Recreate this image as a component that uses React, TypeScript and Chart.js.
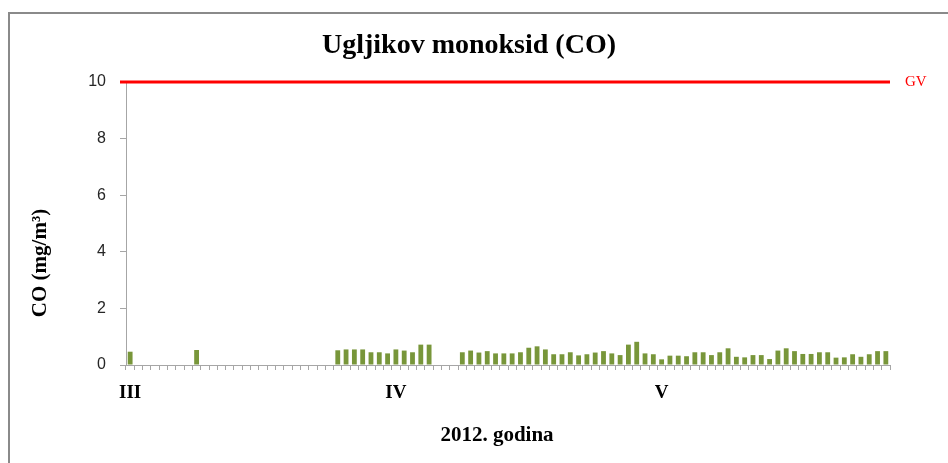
import { useEffect, useRef } from 'react';
import { Chart, registerables } from 'chart.js';

Chart.register(...registerables);

// Months shown on the axis (March–May 2012)
const MONTH_NUMBERS = [3, 4, 5];
const MONTH_LENGTHS = [31, 30, 31];

// Day categories
const DAYS: string[] = [];
MONTH_NUMBERS.forEach((m, mi) => {
  for (let d = 1; d <= MONTH_LENGTHS[mi]; d++) DAYS.push(`${d}.${m}.2012`);
});

// Tick labels (month names in Roman numerals) and the category index they sit at
const TICK_POS = [0, 32, 64];
const TICK_TEXT = ['III', 'IV', 'V'];

// Daily CO concentrations (mg/m3), null = no measurement
const CO_MARCH = [
  0.47, null, null, null, null, null, null, null, 0.53, null,
  null, null, null, null, null, null, null, null, null, null,
  null, null, null, null, null, 0.52, 0.55, 0.55, 0.55, 0.45,
  0.45,
];
const CO_APRIL = [
  0.41, 0.55, 0.51, 0.45, 0.72, 0.72, null, null, null, 0.45,
  0.51, 0.44, 0.49, 0.41, 0.41, 0.41, 0.45, 0.61, 0.66, 0.55,
  0.38, 0.38, 0.45, 0.34, 0.38, 0.44, 0.49, 0.41, 0.35, 0.72,
];
const CO_MAY = [
  0.82, 0.41, 0.38, 0.2, 0.33, 0.33, 0.31, 0.45, 0.45, 0.35,
  0.45, 0.59, 0.29, 0.27, 0.35, 0.35, 0.21, 0.51, 0.59, 0.49,
  0.39, 0.39, 0.45, 0.45, 0.26, 0.27, 0.38, 0.29, 0.38, 0.49,
  0.49,
];
const CO_VALUES = [...CO_MARCH, ...CO_APRIL, ...CO_MAY];

// Limit value (GV)
const GV_VALUE = 10;
const GV_LABEL = 'GV';

const Y_MIN = 0;
const Y_MAX = 10;
const Y_STEP = 2;

const TITLE = 'Ugljikov monoksid (CO)';
const Y_TITLE = 'CO (mg/m³)';
const X_TITLE = '2012. godina';

const SERIF = '"Liberation Serif", "DejaVu Serif", serif';
const SANS = '"Liberation Sans", "DejaVu Sans", sans-serif';

const decorPlugin = {
  id: 'decor',
  beforeDraw(chart: any) {
    const { ctx, width, height } = chart;
    ctx.save();
    ctx.fillStyle = '#ffffff';
    ctx.fillRect(0, 0, width, height);
    ctx.strokeStyle = '#8a8a8a';
    ctx.lineWidth = 2;
    ctx.beginPath();
    ctx.moveTo(9, height);
    ctx.lineTo(9, 13);
    ctx.lineTo(width, 13);
    ctx.stroke();
    ctx.restore();
  },
  afterDatasetsDraw(chart: any) {
    const { ctx, chartArea } = chart;
    const y = chart.scales.y;
    const gy = y.getPixelForValue(GV_VALUE);
    ctx.save();
    ctx.strokeStyle = '#ff0000';
    ctx.lineWidth = 3;
    ctx.beginPath();
    ctx.moveTo(chartArea.left - 6, gy);
    ctx.lineTo(chartArea.right, gy);
    ctx.stroke();
    ctx.fillStyle = '#ff0000';
    ctx.font = `15px ${SERIF}`;
    ctx.textAlign = 'left';
    ctx.textBaseline = 'middle';
    ctx.fillText(GV_LABEL, chartArea.right + 15, gy);
    ctx.restore();
  },
  afterDraw(chart: any) {
    const { ctx } = chart;
    ctx.save();
    ctx.fillStyle = '#000';
    ctx.textAlign = 'center';
    ctx.textBaseline = 'middle';
    ctx.font = `bold 28px ${SERIF}`;
    ctx.fillText(TITLE, 469, 46);
    ctx.font = `bold 21px ${SERIF}`;
    ctx.fillText(X_TITLE, 497, 436);
    ctx.translate(41, 263);
    ctx.rotate(-Math.PI / 2);
    ctx.fillText(Y_TITLE, 0, 0);
    ctx.restore();
  },
};

export default function App() {
  const ref = useRef<HTMLCanvasElement>(null);
  useEffect(() => {
    if (!ref.current) return;
    const chart = new Chart(ref.current, {
      type: 'bar',
      data: {
        labels: DAYS,
        datasets: [
          {
            label: 'CO',
            data: CO_VALUES,
            backgroundColor: '#78963a',
            borderWidth: 0,
            categoryPercentage: 1,
            barPercentage: 0.58,
          },
        ],
      },
      options: {
        responsive: false,
        animation: false,
        devicePixelRatio: 1,
        layout: { padding: { left: 0, right: 58, top: 82, bottom: 0 } },
        plugins: {
          legend: { display: false },
          tooltip: { enabled: false },
          title: { display: false },
        },
        scales: {
          x: {
            type: 'category',
            offset: true,
            grid: {
              offset: true,
              drawOnChartArea: false,
              tickLength: 5,
              color: '#a6a6a6',
            },
            border: { color: '#a6a6a6', width: 1 },
            ticks: {
              autoSkip: false,
              maxRotation: 0,
              minRotation: 0,
              padding: 12,
              color: '#000',
              font: { family: SERIF, size: 19, weight: 'bold' },
              callback: (_v: any, i: number) => {
                const k = TICK_POS.indexOf(i);
                return k >= 0 ? TICK_TEXT[k] : '';
              },
            },
            afterFit: (s: any) => {
              s.height = 98;
            },
          },
          y: {
            min: Y_MIN,
            max: Y_MAX,
            ticks: {
              stepSize: Y_STEP,
              padding: 14,
              color: '#262626',
              font: { family: SANS, size: 16 },
            },
            grid: {
              drawOnChartArea: false,
              tickLength: 6,
              color: '#a6a6a6',
            },
            border: { color: '#a6a6a6', width: 1 },
            afterFit: (s: any) => {
              s.width = 126;
            },
          },
        },
      } as any,
      plugins: [decorPlugin],
    });
    return () => chart.destroy();
  }, []);
  return (
    <canvas
      ref={ref}
      width={948}
      height={463}
      style={{ position: 'fixed', left: 0, top: 0, width: 948, height: 463 }}
    />
  );
}
